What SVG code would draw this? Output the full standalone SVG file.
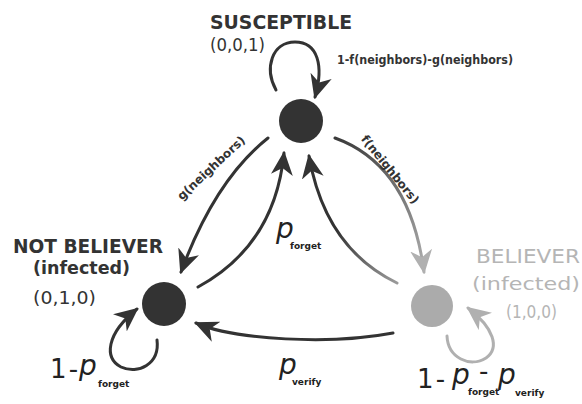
<svg xmlns="http://www.w3.org/2000/svg" width="582" height="404" viewBox="0 0 582 404">
<style>
.bg{fill:#fff}
.dark{fill:#333}
.gray{fill:#ababab}
.edge{fill:none;stroke:#333;stroke-width:3;stroke-linecap:round}
.edge-gray{fill:none;stroke:#b0b0b0;stroke-width:3;stroke-linecap:round}
.title{font-family:"DejaVu Sans",sans-serif;font-weight:bold;font-size:20px;fill:#333}
.coord{font-family:"DejaVu Sans",sans-serif;font-size:17px;fill:#333}
.sub-b{font-family:"DejaVu Sans",sans-serif;font-weight:bold;font-size:18px;fill:#333}
.gtitle{font-family:"DejaVu Sans",sans-serif;font-size:19px;fill:#b5b5b5}
.gcoord{font-family:"DejaVu Sans",sans-serif;font-size:17px;fill:#b5b5b5}
.elab{font-family:"DejaVu Sans",sans-serif;font-weight:bold;font-size:12px;fill:#333}
.p{font-family:"DejaVu Sans",sans-serif;font-style:italic;font-size:28px;fill:#222}
.one{font-family:"DejaVu Sans",sans-serif;font-size:26px;fill:#222;word-spacing:-6px}
.sub{font-family:"DejaVu Sans",sans-serif;font-weight:bold;font-size:9px;font-style:normal;fill:#222}
</style>
<defs>
<marker id="ah" viewBox="0 0 24 22" refX="22" refY="11" markerWidth="24" markerHeight="22" markerUnits="userSpaceOnUse" orient="auto">
<path d="M0,0 L24,11 L0,22 L7,11 z" fill="#333"/>
</marker>
<marker id="ahg" viewBox="0 0 24 22" refX="22" refY="11" markerWidth="24" markerHeight="22" markerUnits="userSpaceOnUse" orient="auto">
<path d="M0,0 L24,11 L0,22 L7,11 z" fill="#b0b0b0"/>
</marker>
<linearGradient id="gf" gradientUnits="userSpaceOnUse" x1="335" y1="138" x2="424" y2="272">
<stop offset="0" stop-color="#3a3a3a"/>
<stop offset="1" stop-color="#b0b0b0"/>
</linearGradient>
<linearGradient id="gb" gradientUnits="userSpaceOnUse" x1="397" y1="283" x2="309" y2="156">
<stop offset="0" stop-color="#9a9a9a"/>
<stop offset="0.5" stop-color="#333"/>
<stop offset="1" stop-color="#333"/>
</linearGradient>
</defs>
<rect class="bg" x="0" y="0" width="582" height="404"/>

<g id="connectors">
<path id="e-s-loop" class="edge" d="M276,90 C264,68 272,42 295,42 C318,42 324,66 315,97" marker-end="url(#ah)"/>
<path id="e-s-nb" class="edge" d="M268,138 Q215,180 181,272" marker-end="url(#ah)"/>
<path id="e-nb-s" class="edge" d="M198,287 Q275,245 284,153" marker-end="url(#ah)"/>
<path id="e-b-s" fill="none" stroke="url(#gb)" stroke-width="3" stroke-linecap="round" d="M397,283 Q325,248 309,156" marker-end="url(#ah)"/>
<path id="e-s-b" fill="none" stroke="url(#gf)" stroke-width="3" stroke-linecap="round" d="M335,138 Q410,165 424,272" marker-end="url(#ahg)"/>
<path id="e-b-nb" class="edge" d="M393,333 C330,345 235,340 196,323" marker-end="url(#ah)"/>
<path id="e-nb-loop" class="edge" d="M157,340 C160,364 138,375 121,367 C104,358 106,334 137,309" marker-end="url(#ah)"/>
<path id="e-b-loop" class="edge-gray" d="M447,336 C448,358 470,368 486,358 C500,348 494,328 468,308" marker-end="url(#ahg)"/>
</g>

<g id="edge-labels">
<text class="elab" x="337" y="64" textLength="176" lengthAdjust="spacingAndGlyphs">1-f(neighbors)-g(neighbors)</text>
<text class="elab" transform="translate(214,171) rotate(-43)" text-anchor="middle">g(neighbors)</text>
<text class="elab" transform="translate(387,172) rotate(51)" text-anchor="middle">f(neighbors)</text>
<text class="p" x="276" y="238">p<tspan class="sub" x="290" y="249">forget</tspan></text>
<text class="p" x="279" y="374">p<tspan class="sub" x="292" y="385">verify</tspan></text>
<text class="one" x="50" y="378">1 -</text>
<text class="p" x="79" y="375">p<tspan class="sub" x="98" y="387">forget</tspan></text>
<text class="one" x="417" y="388">1 -</text>
<text class="p" x="452" y="384">p<tspan class="sub" x="468" y="395">forget</tspan></text>
<text class="one" x="479" y="380" font-size="18">-</text>
<text class="p" x="498" y="384">p<tspan class="sub" x="515" y="396">verify</tspan></text>
</g>

<g id="susceptible">
<circle class="dark" cx="301" cy="121" r="22"/>
<text class="title" x="210" y="29" textLength="142" lengthAdjust="spacingAndGlyphs">SUSCEPTIBLE</text>
<text class="coord" x="210" y="51" textLength="55" lengthAdjust="spacingAndGlyphs">(0,0,1)</text>
</g>

<g id="not-believer">
<circle class="dark" cx="164" cy="304" r="22"/>
<text class="title" x="13" y="253" textLength="150" lengthAdjust="spacingAndGlyphs">NOT BELIEVER</text>
<text class="sub-b" x="33" y="274" textLength="97" lengthAdjust="spacingAndGlyphs">(infected)</text>
<text class="coord" x="33" y="304" textLength="63" lengthAdjust="spacingAndGlyphs">(0,1,0)</text>
</g>

<g id="believer">
<circle class="gray" cx="432" cy="306" r="21"/>
<text class="gtitle" x="476" y="263" textLength="104" lengthAdjust="spacingAndGlyphs">BELIEVER</text>
<text class="gcoord" x="472" y="290" textLength="108" lengthAdjust="spacingAndGlyphs">(infected)</text>
<text class="gcoord" x="506" y="318" textLength="51" lengthAdjust="spacingAndGlyphs">(1,0,0)</text>
</g>
</svg>
